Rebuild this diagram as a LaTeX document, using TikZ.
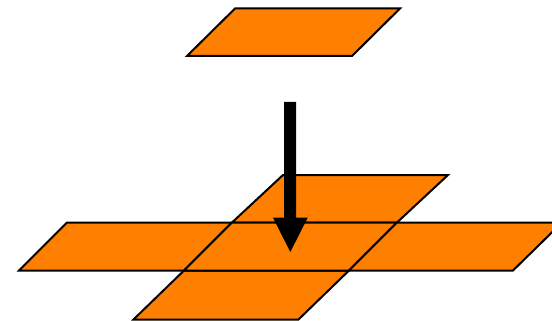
\documentclass[tikz,border=0pt]{standalone}
\definecolor{tileorange}{HTML}{FF8000}
\tikzset{
  tile/.style={fill=tileorange, draw=black, line width=2pt, line join=miter},
  bigarrow/.style={fill=black, draw=none}
}
\begin{document}
\begin{tikzpicture}[x=1pt,y=-1pt]
\useasboundingbox (0,0) rectangle (552,321);
\begin{scope}
\clip (0,0) rectangle (552,321);
% top loose tile
\path[tile] (187,56) coordinate (t1) -- (235,8.5) coordinate (t2) -- (400,8.5) coordinate (t3) -- (352,56) coordinate (t4) -- cycle;
% cross: upper tile
\path[tile] (232,222.5) coordinate (u1) -- (283,175) coordinate (u2) -- (448,175) coordinate (u3) -- (397,222.5) coordinate (u4) -- cycle;
% cross: lower tile
\path[tile] (133.5,319.5) coordinate (d1) -- (184,270.5) coordinate (d2) -- (349,270.5) coordinate (d3) -- (298.5,319.5) coordinate (d4) -- cycle;
% middle row
\path[tile] (19,270.5) coordinate (l1) -- (67,222.5) coordinate (l2) -- (232,222.5) -- (184,270.5) -- cycle;
\path[tile] (184,270.5) -- (232,222.5) -- (397,222.5) -- (349,270.5) -- cycle;
\path[tile] (349,270.5) -- (397,222.5) -- (562,222.5) coordinate (r3) -- (513,270.5) coordinate (r4) -- cycle;
\end{scope}
% arrow
\coordinate (as) at (290,102);
\coordinate (at) at (290.3,252);
\path[bigarrow] (284,102) -- (296,102) -- (296,217.7) -- (307.7,217.7) -- (at) -- (273,217.7) -- (284,217.7) -- cycle;
\end{tikzpicture}
\end{document}
